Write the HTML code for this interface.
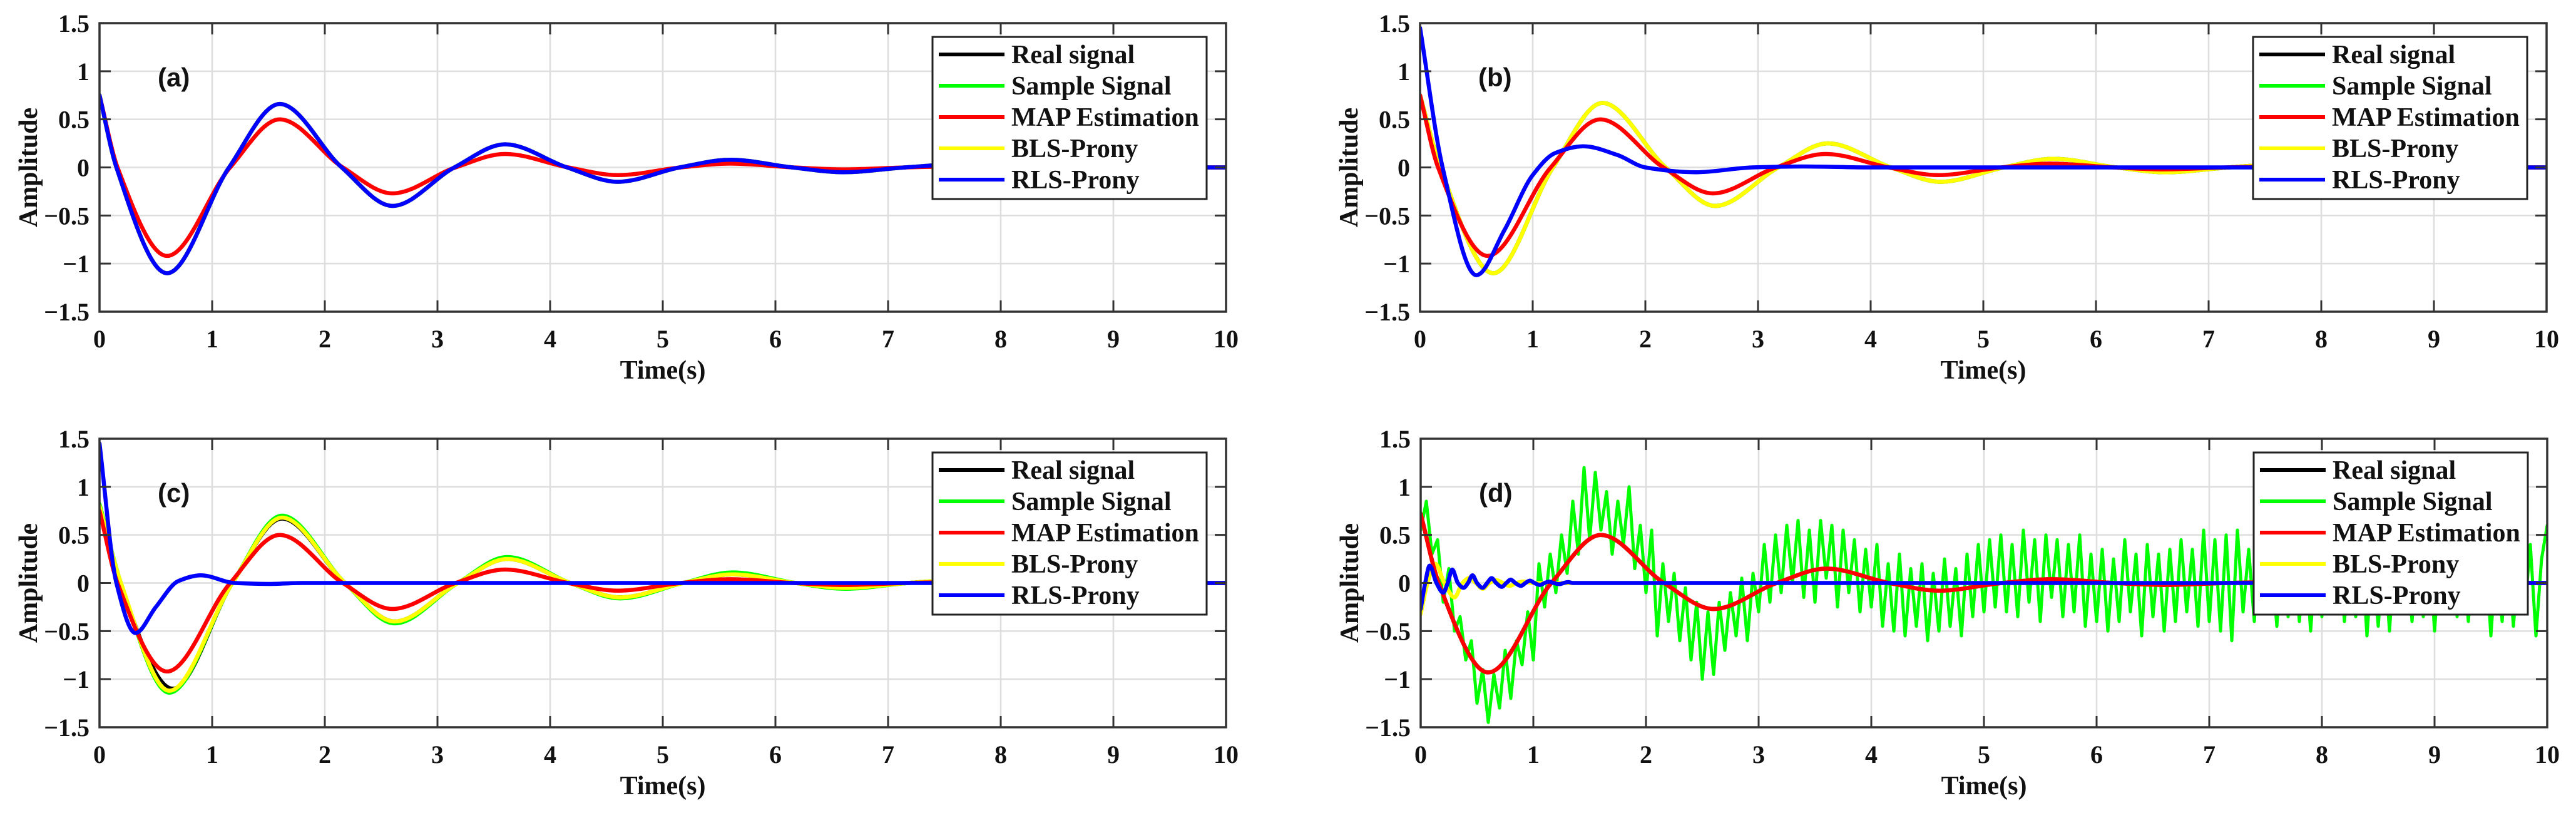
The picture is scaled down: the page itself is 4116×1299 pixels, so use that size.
<!DOCTYPE html>
<html><head><meta charset="utf-8">
<style>
html,body{margin:0;padding:0;background:#fff;}
svg{display:block;}
text{font-family:"Liberation Serif",serif;fill:#111;}
</style></head>
<body>
<svg id="fig" width="4116" height="1299" viewBox="0 0 4116 1299" xmlns="http://www.w3.org/2000/svg"></svg>
<script>
// ---------- data (knots) ----------
const xTicks = [0,1,2,3,4,5,6,7,8,9,10];
const yTicks = [-1.5,-1,-0.5,0,0.5,1,1.5];
const yTickLabels = ["\u22121.5","\u22121","\u22120.5","0","0.5","1","1.5"];
const panelLabels = ["(a)","(b)","(c)","(d)"];
const legendNames = ["Real signal","Sample Signal","MAP Estimation","BLS-Prony","RLS-Prony"];

const realT = [0,0.18,0.65,1.18,1.62,2.18,2.62,3.18,3.62,4.18,4.62,5.18,5.62,6.18,6.62,7.18,7.62,8.18,10];
const realY = [0.75,0,-1.1,0,0.67,0,-0.4,0,0.25,0,-0.15,0,0.09,0,-0.05,0,0.03,0,0];

const mapT = [0,0.16,0.6,1.16,1.6,2.16,2.6,3.16,3.6,4.16,4.6,5.16,5.6,6.16,6.6,7.16,7.6,8.16,10];
const mapY = [0.75,0,-0.92,0,0.5,0,-0.27,0,0.14,0,-0.08,0,0.04,0,-0.02,0,0.01,0,0];

const aRlsT = [0,0.15,0.6,1.15,1.6,2.15,2.6,3.15,3.6,4.15,4.6,5.15,5.6,6.15,6.6,7.15,7.6,8.15,8.6,9.15,10];
const aRlsY = [0.75,0,-1.1,0,0.66,0,-0.4,0,0.24,0,-0.15,0,0.08,0,-0.05,0,0.03,0,-0.015,0,0];

const bBlsT = [0,0.18,0.65,1.18,1.62,2.18,2.62,3.18,3.62,4.18,4.62,5.18,5.62,6.18,6.62,7.18,7.62,8.18,10];
const bBlsY = [0.75,0,-1.1,0,0.67,0,-0.4,0,0.25,0,-0.15,0,0.09,0,-0.05,0,0.03,0,0];
const bRlsT = [0,0.2,0.5,0.75,1.0,1.2,1.45,1.75,2.0,2.45,2.95,3.4,4,10];
const bRlsY = [1.45,0,-1.12,-0.65,-0.08,0.15,0.22,0.13,0,-0.05,0,0.01,0,0];

const cSampleT = [0,0.19,0.62,1.18,1.62,2.18,2.62,3.18,3.62,4.18,4.62,5.18,5.62,6.18,6.62,7.18,7.62,8.18,10];
const cSampleY = [0.82,0,-1.14,0,0.7,0,-0.42,0,0.27,0,-0.16,0,0.11,0,-0.06,0,0.03,0,0];
const cBlsT = [0,0.19,0.62,1.18,1.62,2.18,2.62,3.18,3.62,4.18,4.62,5.18,5.62,6.18,6.62,7.18,7.62,8.18,10];
const cBlsY = [0.8,0,-1.12,0,0.68,0,-0.4,0,0.25,0,-0.15,0,0.09,0,-0.05,0,0.03,0,0];
const cRlsT = [0,0.15,0.32,0.5,0.7,0.9,1.2,1.5,1.8,10];
const cRlsY = [1.45,0,-0.52,-0.25,0.02,0.08,0,-0.01,0,0];

const dMapT = [0,0.16,0.6,1.16,1.6,2.16,2.6,3.16,3.6,4.16,4.6,5.16,5.6,6.16,6.6,7.16,7.6,8.16,10];
const dMapY = [0.72,0,-0.93,0,0.5,0,-0.27,0,0.15,0,-0.08,0,0.04,0,-0.02,0,0.01,0,0];
const dBlsT = [0,0.06,0.13,0.21,0.3,0.37,0.43,0.49,0.55,0.61,0.67,0.73,0.79,0.85,0.91,1.0,10];
const dBlsY = [-0.32,0,0.2,0,-0.15,0,0.05,0,-0.06,0,0.03,0,-0.03,0,0.015,0,0];
const dRlsT = [0,0.04,0.08,0.14,0.2,0.24,0.28,0.33,0.38,0.42,0.46,0.5,0.55,0.59,0.63,0.67,0.72,0.76,0.8,0.84,0.89,0.93,0.97,1.01,1.06,1.1,1.14,1.18,1.23,1.27,1.31,1.35,10];
const dRlsY = [-0.27,0,0.18,0,-0.1,0,0.14,0,-0.05,0,0.08,0,-0.05,0,0.05,0,-0.04,0,0.035,0,-0.03,0,0.025,0,-0.02,0,0.015,0,-0.012,0,0.01,0,0];
// noisy sample signal of panel (d), one value every 0.05 s from 0 to 10 s
const dSampleY = [0.55,0.85,0.3,0.45,-0.2,0.15,-0.5,-0.35,-0.8,-0.6,-1.25,-0.9,-1.45,-0.95,-1.3,-0.7,-1.2,-0.6,-0.85,-0.3,
-0.8,0.2,-0.25,0.3,-0.1,0.5,0.1,0.85,0.3,1.2,0.45,1.15,0.55,0.95,0.3,0.85,0.4,1.0,0.15,0.6,
-0.1,0.55,-0.55,0.2,-0.4,0.1,-0.6,-0.05,-0.8,-0.2,-1.0,-0.3,-0.95,-0.2,-0.7,-0.1,-0.55,0.05,-0.6,0.1,
-0.3,0.4,-0.2,0.5,-0.1,0.6,0.0,0.65,-0.15,0.55,-0.2,0.65,0.05,0.6,-0.25,0.55,-0.1,0.45,-0.3,0.35,
-0.25,0.4,-0.45,0.2,-0.5,0.3,-0.55,0.15,-0.45,0.2,-0.6,0.1,-0.5,0.25,-0.45,0.15,-0.55,0.3,-0.35,0.4,
-0.3,0.45,-0.25,0.5,-0.3,0.4,-0.35,0.55,-0.2,0.45,-0.4,0.5,-0.15,0.45,-0.35,0.4,-0.3,0.5,-0.45,0.3,
-0.4,0.35,-0.5,0.25,-0.4,0.45,-0.3,0.3,-0.55,0.4,-0.35,0.3,-0.5,0.35,-0.4,0.45,-0.3,0.35,-0.45,0.55,
-0.4,0.45,-0.5,0.5,-0.6,0.55,-0.3,0.35,-0.4,0.45,-0.3,0.3,-0.45,0.4,-0.35,0.3,-0.4,0.35,-0.5,0.3,
-0.35,0.4,-0.3,0.35,-0.4,0.3,-0.35,0.4,-0.55,0.3,-0.45,0.35,-0.5,0.4,-0.3,0.35,-0.4,0.3,-0.35,0.45,
-0.5,0.35,-0.3,0.4,-0.35,0.3,-0.4,0.35,-0.3,0.4,-0.55,0.3,-0.4,0.35,-0.45,0.3,-0.3,0.4,-0.55,0.25,0.6];

// ---------- layout ----------
const NS = "http://www.w3.org/2000/svg";
const svg = document.getElementById('fig');
const W = 1800, H = 461, X0 = 0, X1 = 10, Y0 = -1.5, Y1 = 1.5, DT = 0.05;
const colors = {real:"#000000", sample:"#00ff00", map:"#ff0000", bls:"#ffff00", rls:"#0000ff"};
const legendColors = [colors.real, colors.sample, colors.map, colors.bls, colors.rls];

function mk(tag, attrs, parent){
  const e = document.createElementNS(NS, tag);
  for (const k in attrs) e.setAttribute(k, attrs[k]);
  (parent || svg).appendChild(e);
  return e;
}

function monoPath(T, Y, sx, sy){
  const n = T.length;
  const d = [], m = new Array(n);
  for (let i=0;i<n-1;i++) d.push((Y[i+1]-Y[i])/(T[i+1]-T[i]));
  m[0] = d[0]; m[n-1] = d[n-2];
  for (let i=1;i<n-1;i++){
    if (d[i-1]*d[i] <= 0) m[i] = 0;
    else {
      const h0 = T[i]-T[i-1], h1 = T[i+1]-T[i];
      const w1 = 2*h1+h0, w2 = h1+2*h0;
      m[i] = (w1+w2)/(w1/d[i-1]+w2/d[i]);
    }
  }
  let p = "M" + sx(T[0]).toFixed(1) + "," + sy(Y[0]).toFixed(1);
  for (let i=0;i<n-1;i++){
    const h = T[i+1]-T[i];
    p += " C" + sx(T[i]+h/3).toFixed(1) + "," + sy(Y[i]+m[i]*h/3).toFixed(1) + " " +
         sx(T[i+1]-h/3).toFixed(1) + "," + sy(Y[i+1]-m[i+1]*h/3).toFixed(1) + " " +
         sx(T[i+1]).toFixed(1) + "," + sy(Y[i+1]).toFixed(1);
  }
  return p;
}
function linePath(V, sx, sy){
  let p = "";
  V.forEach((v,i)=>{ p += (i? " L":"M") + sx(i*DT).toFixed(1) + "," + sy(v).toFixed(1); });
  return p;
}

const panels = [
  {L:159, T:37, label:panelLabels[0], series:[
    ["real", aRlsT, aRlsY],["sample", aRlsT, aRlsY],["bls", aRlsT, aRlsY],["map", mapT, mapY],["rls", aRlsT, aRlsY]]},
  {L:2269, T:37, label:panelLabels[1], series:[
    ["real", realT, realY],["sample", bBlsT, bBlsY],["bls", bBlsT, bBlsY],["map", mapT, mapY],["rls", bRlsT, bRlsY]]},
  {L:159, T:701, label:panelLabels[2], series:[
    ["real", realT, realY],["sample", cSampleT, cSampleY],["bls", cBlsT, cBlsY],["map", mapT, mapY],["rls", cRlsT, cRlsY]]},
  {L:2270, T:701, label:panelLabels[3], series:[
    ["real", dMapT, dMapY],["sample", null, dSampleY],["bls", dBlsT, dBlsY],["map", dMapT, dMapY],["rls", dRlsT, dRlsY]]}
];

panels.forEach((P, pi) => {
  const sx = t => P.L + (t - X0) / (X1 - X0) * W;
  const sy = v => P.T + (Y1 - v) / (Y1 - Y0) * H;
  const g = mk('g', {});
  
  

  mk('rect', {x:P.L, y:P.T, width:W, height:H, fill:'#fff'}, g);
  const grid = mk('g', {stroke:'#dedede', 'stroke-width':2.5}, g);
  
  
  xTicks.forEach(t => mk('line', {x1:sx(t), x2:sx(t), y1:P.T, y2:P.T+H}, grid));
  yTicks.forEach(v => mk('line', {x1:P.L, x2:P.L+W, y1:sy(v), y2:sy(v)}, grid));

  const clipId = 'clip' + pi;
  const cp = mk('clipPath', {id:clipId}, g);
  mk('rect', {x:P.L, y:P.T, width:W, height:H}, cp);
  const sg = mk('g', {'clip-path':'url(#'+clipId+')', fill:'none', 'stroke-linejoin':'round', 'stroke-linecap':'round'}, g);
  P.series.forEach(s => {
    const [key, T, Y] = s;
    const d = T ? monoPath(T, Y, sx, sy) : linePath(Y, sx, sy);
    const w = (key === 'sample' && !T) ? 5 : 6.5;
    const path = mk('path', {d:d, stroke:colors[key], 'stroke-width':w}, sg);
    
    
  });

  const tk = mk('g', {stroke:'#333', 'stroke-width':3}, g);
  xTicks.forEach(t => {
    mk('line', {x1:sx(t), x2:sx(t), y1:P.T+H, y2:P.T+H-18}, tk);
    mk('line', {x1:sx(t), x2:sx(t), y1:P.T, y2:P.T+18}, tk);
  });
  yTicks.forEach(v => {
    mk('line', {x1:P.L, x2:P.L+18, y1:sy(v), y2:sy(v)}, tk);
    mk('line', {x1:P.L+W, x2:P.L+W-18, y1:sy(v), y2:sy(v)}, tk);
  });
  const box = mk('rect', {x:P.L, y:P.T, width:W, height:H, fill:'none', stroke:'#333', 'stroke-width':3.5}, g);
  
  

  xTicks.forEach(t => {
    const tx = mk('text', {x:sx(t), y:P.T+H+57, 'text-anchor':'middle', 'font-size':40, 'font-weight':'bold'}, g);
    tx.textContent = String(t);
    
    
  });
  yTicks.forEach((v, i) => {
    const tx = mk('text', {x:P.L-16, y:sy(v)+14, 'text-anchor':'end', 'font-size':40, 'font-weight':'bold'}, g);
    tx.textContent = yTickLabels[i];
    
    
  });
  const xt = mk('text', {x:P.L+W/2, y:P.T+H+107, 'text-anchor':'middle', 'font-size':42, 'font-weight':'bold'}, g);
  xt.textContent = 'Time(s)';
  
  
  const yt = mk('text', {x:0, y:0, 'text-anchor':'middle', 'font-size':42, 'font-weight':'bold',
    transform:'translate(' + (P.L-100) + ',' + (P.T+H/2) + ') rotate(-90)'}, g);
  yt.textContent = 'Amplitude';
  
  

  const pl = mk('text', {x:P.L+93, y:P.T+101, 'font-size':42, 'font-weight':'bold', style:'font-family:"Liberation Sans",sans-serif'}, g);
  pl.textContent = P.label;
  
  

  const lg = mk('g', {}, g);
  
  
  const lx = P.L + 1331, ly = P.T + 22;
  mk('rect', {x:lx, y:ly, width:438, height:259, fill:'#fff', stroke:'#222', 'stroke-width':3}, lg);
  legendNames.forEach((name, i) => {
    const ry = ly + 28 + i * 50;
    const e = mk('g', {}, lg);
    
    
    mk('line', {x1:lx+10, x2:lx+115, y1:ry, y2:ry, stroke:legendColors[i], 'stroke-width':6}, e);
    const t = mk('text', {x:lx+126, y:ry+14, 'font-size':42, 'font-weight':'bold'}, e);
    t.textContent = name;
  });
});
</script>
</body></html>
